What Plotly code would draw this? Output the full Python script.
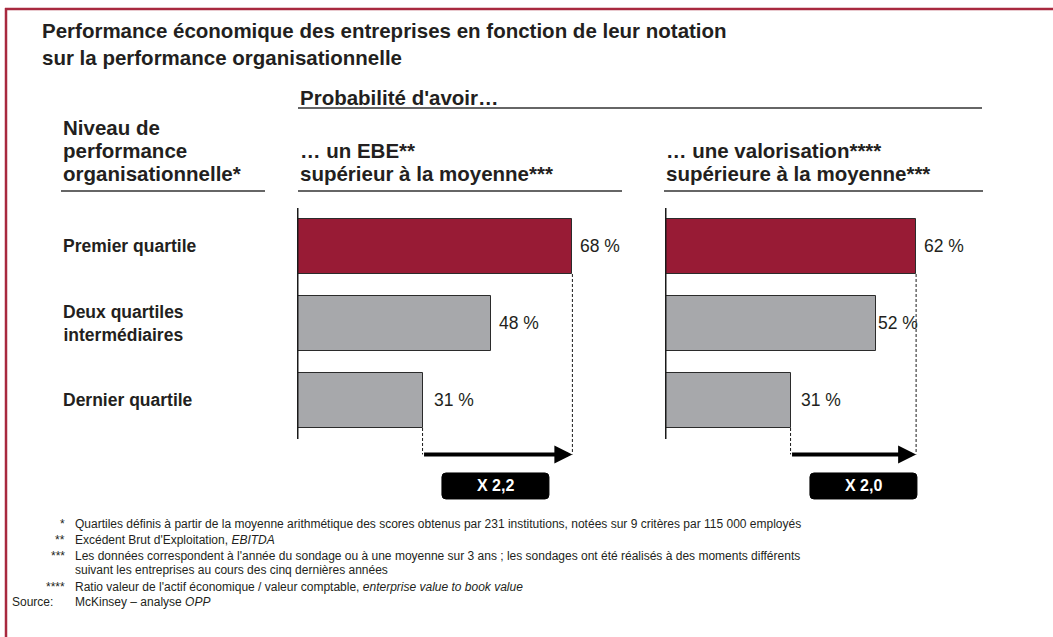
import plotly.graph_objects as go

W, H = 1053, 637

# ---------------- data ----------------
categories = ["Premier quartile", "Deux quartiles<br>intermédiaires", "Dernier quartile"]
ebe_values = [68, 48, 31]
valo_values = [62, 52, 31]
bar_colors = ["#981b35", "#a7a8ab", "#a7a8ab"]

title_lines = ["Performance économique des entreprises en fonction de leur notation",
               "sur la performance organisationnelle"]
row_header = ["Niveau de", "performance", "organisationnelle*"]
col_super = "Probabilité d'avoir…"
col1_header = ["… un EBE**", "supérieur à la moyenne***"]
col2_header = ["… une valorisation****", "supérieure à la moyenne***"]

footnote_marks = ["*", "**", "***", "", "****"]
footnote_texts = [
    "Quartiles définis à partir de la moyenne arithmétique des scores obtenus par 231 institutions, notées sur 9 critères par 115 000 employés",
    "Excédent Brut d'Exploitation, <i>EBITDA</i>",
    "Les données correspondent à l'année du sondage ou à une moyenne sur 3 ans ; les sondages ont été réalisés à des moments différents",
    "suivant les entreprises au cours des cinq dernières années",
    "Ratio valeur de l'actif économique / valeur comptable, <i>enterprise value to book value</i>",
]
source_label = "Source:"
source_text = "McKinsey – analyse <i>OPP</i>"

# ---------------- layout helpers ----------------
FONT = "Liberation Sans, Arial, Helvetica, sans-serif"
TXT = "#231f20"


def px(x):
    return x / W


def py(y):
    return 1 - y / H


ypos = list(range(len(categories) - 1, -1, -1))  # top first
BAR_W = 0.714
ARROW_Y = -0.7
BOX_Y = -1.11
BOX_X = 49
label_shifts = {"x": [6, 6, 9], "x2": [6, 0, 8]}

fig = go.Figure()
panels = [("x", "y", ebe_values), ("x2", "y2", valo_values)]
for xa, ya, vals in panels:
    fig.add_trace(go.Bar(
        x=vals, y=ypos, orientation="h", width=BAR_W,
        marker=dict(color=bar_colors, line=dict(color="#2b2b2b", width=1)),
        xaxis=xa, yaxis=ya, showlegend=False, hoverinfo="skip"))

shapes = []
annotations = []

# frame
FRAME = "#a8293f"
shapes.append(dict(type="line", xref="paper", yref="paper", x0=px(5), x1=1, y0=py(9), y1=py(9),
                   line=dict(color=FRAME, width=2.5)))
shapes.append(dict(type="line", xref="paper", yref="paper", x0=px(6), x1=px(6), y0=py(8), y1=0,
                   line=dict(color=FRAME, width=2.5)))


def text(x, y, s, size, bold=False, anchor="left", color=TXT, xref="paper", yref="paper", xshift=0):
    annotations.append(dict(
        x=x, y=y, xref=xref, yref=yref, text=f"<b>{s}</b>" if bold else s, showarrow=False,
        xanchor=anchor, yanchor="middle", xshift=xshift,
        font=dict(family=FONT, size=size, color=color)))


def hline(x0, x1, y, width=1.5):
    shapes.append(dict(type="line", xref="paper", yref="paper", x0=px(x0), x1=px(x1), y0=py(y), y1=py(y),
                       line=dict(color="#333333", width=width)))


HEAD = 20.5
# titles
for i, t in enumerate(title_lines):
    text(px(40), py(31 + 26 * i), t, HEAD, bold=True)

text(px(298), py(97), col_super, HEAD, bold=True)
hline(298, 982, 108)

for i, t in enumerate(row_header):
    text(px(61), py(128 + 22.5 * i), t, HEAD, bold=True)
hline(61, 265, 191)
for i, t in enumerate(col1_header):
    text(px(298), py(150.5 + 22.5 * i), t, HEAD, bold=True)
hline(298, 622, 191)
for i, t in enumerate(col2_header):
    text(px(664), py(150.5 + 22.5 * i), t, HEAD, bold=True)
hline(664, 983, 191)

# category labels
for c, yv in zip(categories, ypos):
    text(px(61), yv, c, 17.5, bold=True, yref="y")

# panels details
for xa, ya, vals in panels:
    for v, yv, sh in zip(vals, ypos, label_shifts[xa]):
        text(v, yv, f"{v} %", 17.5, xref=xa, yref=ya, xshift=sh)
    # axis line
    shapes.append(dict(type="line", xref=xa, yref=ya, x0=0, x1=0, y0=-0.5, y1=len(vals) - 0.5,
                       line=dict(color="#1a1a1a", width=3)))
    vmax, vmin = max(vals), min(vals)
    imax, imin = vals.index(vmax), vals.index(vmin)
    for v, i in [(vmax, imax), (vmin, imin)]:
        shapes.append(dict(type="line", xref=xa, yref=ya, x0=v, x1=v,
                           y0=ypos[i] - BAR_W / 2, y1=ARROW_Y,
                           line=dict(color="#1a1a1a", width=1, dash="3px,2px")))
    annotations.append(dict(x=vmax, y=ARROW_Y, ax=vmin, ay=ARROW_Y, xref=xa, yref=ya,
                            axref=xa, ayref=ya, text="", showarrow=True, arrowhead=2,
                            arrowsize=0.9, arrowwidth=4, arrowcolor="#000000", standoff=0))
    # box
    w, h, r = 53.5, 13, 4
    path = (f"M {-w + r},{-h} L {w - r},{-h} Q {w},{-h} {w},{-h + r} L {w},{h - r} "
            f"Q {w},{h} {w - r},{h} L {-w + r},{h} Q {-w},{h} {-w},{h - r} "
            f"L {-w},{-h + r} Q {-w},{-h} {-w + r},{-h} Z")
    shapes.append(dict(type="path", xref=xa, yref=ya, xsizemode="pixel", ysizemode="pixel",
                       xanchor=BOX_X, yanchor=BOX_Y, path=path,
                       fillcolor="#000000", line=dict(color="#000000", width=1)))
    ratio = f"{vmax / vmin:.1f}".replace(".", ",")
    text(BOX_X, BOX_Y, f"X {ratio}", 16, bold=True, anchor="center", color="#ffffff", xref=xa, yref=ya)

# footnotes
FOOT = 12
foot_y = [524, 540, 556, 570, 587]
for m, t, y in zip(footnote_marks, footnote_texts, foot_y):
    if m:
        text(px(67), py(y), m, FOOT, anchor="right")
    text(px(73), py(y), t, FOOT)
text(px(10), py(602), source_label, FOOT)
text(px(73), py(602), source_text, FOOT)

ydom = [py(516), py(208)]
fig.update_layout(
    width=W, height=H, margin=dict(l=0, r=0, t=0, b=0),
    paper_bgcolor="white", plot_bgcolor="rgba(0,0,0,0)",
    xaxis=dict(domain=[px(297), px(297 + 4.05 * 80)], range=[0, 80], visible=False, fixedrange=True),
    yaxis=dict(domain=ydom, range=[-1.5, 2.5], visible=False, fixedrange=True),
    xaxis2=dict(domain=[px(665), px(665 + 4.05 * 80)], range=[0, 80], visible=False, anchor="y2", fixedrange=True),
    yaxis2=dict(domain=ydom, range=[-1.5, 2.5], visible=False, anchor="x2", fixedrange=True),
    shapes=shapes, annotations=annotations, bargap=0,
)

fig.write_html("out.html", config={"displayModeBar": False},
               post_script="document.body.style.margin='0';document.body.style.overflow='hidden';")
